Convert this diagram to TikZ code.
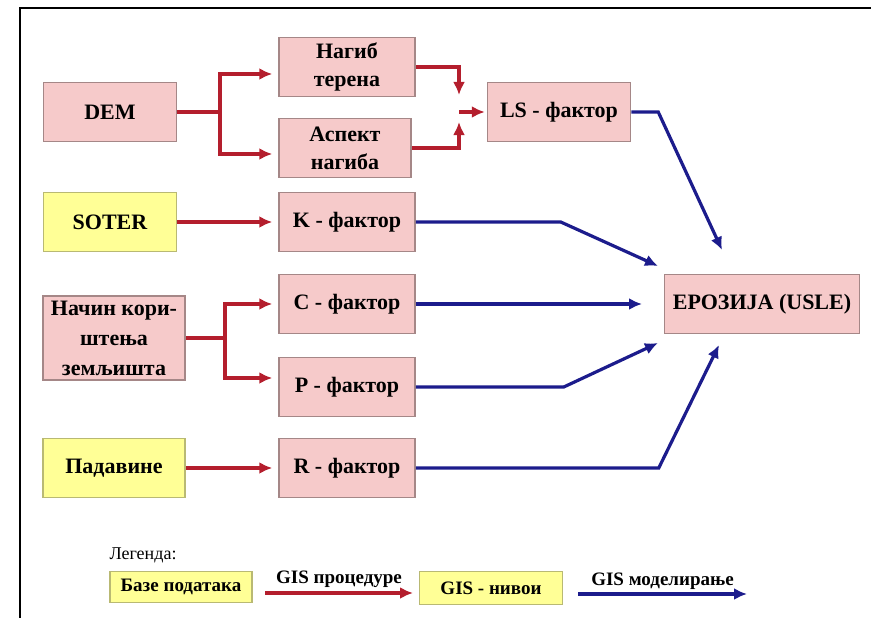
\documentclass[tikz,border=0pt]{standalone}
\usepackage{fontspec}
\setmainfont{Liberation Serif}
\usetikzlibrary{arrows.meta,positioning}

\definecolor{boxpink}{RGB}{246,202,202}
\definecolor{pinkline}{RGB}{165,135,135}
\definecolor{boxyellow}{RGB}{255,255,150}
\definecolor{yelline}{RGB}{185,185,115}
\definecolor{procred}{RGB}{180,30,45}
\definecolor{modelblue}{RGB}{28,28,140}

\begin{document}
\begin{tikzpicture}[
    x=1pt, y=-1pt,
    box/.style={draw=pinkline, fill=boxpink, line width=1.5pt, align=center, minimum width=136pt, minimum height=59pt, inner sep=2pt, font=\fontsize{22}{28}\selectfont\bfseries},
    dbox/.style={box, draw=yelline, fill=boxyellow},
    proc/.style={-{Latex[length=13pt,width=12pt]}, line width=3.2pt, draw=procred, shorten >=6pt},
    model/.style={-{Latex[length=13pt,width=12pt]}, line width=3.2pt, draw=modelblue},
    legtxt/.style={font=\fontsize{19}{22}\selectfont\bfseries}
  ]
  \useasboundingbox (0,0) rectangle (871,618);
  \draw[line width=2.5pt] (20,618) -- (20,8) -- (871,8);

  % inputs and factors
  \node[box, minimum width=133pt] (dem) at (110,112) {DEM};
  \node[box] (slope) at (347,67) {Нагиб\\терена};
  \node[box, minimum width=132pt] (aspect) at (345,148) {Аспект\\нагиба};
  \node[box, minimum width=143pt] (ls) at (559,112) {LS - фактор};
  \node[dbox, minimum width=133pt] (soter) at (110,222) {SOTER};
  \node[box] (kf) at (347,222) {K - фактор};
  \node[box, minimum width=142pt, minimum height=84pt, font=\fontsize{22}{30}\selectfont\bfseries] (landuse) at (114,338) {Начин кори-\\штења\\земљишта};
  \node[box] (cf) at (347,304) {C - фактор};
  \node[box] (pf) at (347,387) {P - фактор};
  \node[dbox, minimum width=142pt] (rain) at (114,468) {Падавине};
  \node[box] (rf) at (347,468) {R - фактор};
  \node[box, minimum width=195pt] (usle) at (762,304) {ЕРОЗИЈА (USLE)};

  % GIS procedures
  \coordinate (demfork) at (220,112);
  \draw[proc] (dem.east) -- (demfork) |- ([yshift=-7pt]slope.west);
  \draw[proc] (demfork) |- ([yshift=-6pt]aspect.west);
  \coordinate (lsjoin) at (459,112);
  \draw[proc, shorten >=17pt] (slope.east) -| (lsjoin);
  \draw[proc, shorten >=10pt] (aspect.east) -| (lsjoin);
  \draw[proc, shorten >=2pt] (lsjoin) -- (ls.west);
  \draw[proc] (soter.east) -- (kf.west);
  \coordinate (lufork) at (225,338);
  \draw[proc] (landuse.east) -- (lufork) |- (cf.west);
  \draw[proc] (lufork) |- ([yshift=9pt]pf.west);
  \draw[proc] (rain.east) -- (rf.west);

  % GIS modelling
  \coordinate (tipls) at (722,250);
  \coordinate (tipk) at (658,266);
  \coordinate (tipc) at (642,304);
  \coordinate (tipp) at (658,343);
  \coordinate (tipr) at (719,345);
  \draw[model] (ls.east) -- ++(27,0) -- (tipls);
  \draw[model] (kf.east) -- ++(145,0) -- (tipk);
  \draw[model] (cf.east) -- (tipc);
  \draw[model] (pf.east) -- ++(148,0) -- (tipp);
  \draw[model] (rf.east) -- ++(243,0) -- (tipr);

  % legend
  \node[font=\fontsize{18}{20}\selectfont, anchor=west] (legtitle) at (106,555) {Легенда:};
  \node[dbox, legtxt, minimum width=142pt, minimum height=31pt] (legdb) at (181,587) {Базе података};
  \node[dbox, legtxt, minimum width=143pt, minimum height=33pt] (leglayer) at (491,588) {GIS - нивои};
  \coordinate (procA) at (265,593);
  \coordinate (procB) at (413,593);
  \draw[proc, shorten >=0pt] (procA) -- node[legtxt, above=0pt] {GIS процедуре} (procB);
  \coordinate (modelA) at (578,594);
  \coordinate (modelB) at (747,594);
  \draw[model] (modelA) -- node[legtxt, above=0pt] {GIS моделирање} (modelB);
\end{tikzpicture}
\end{document}
